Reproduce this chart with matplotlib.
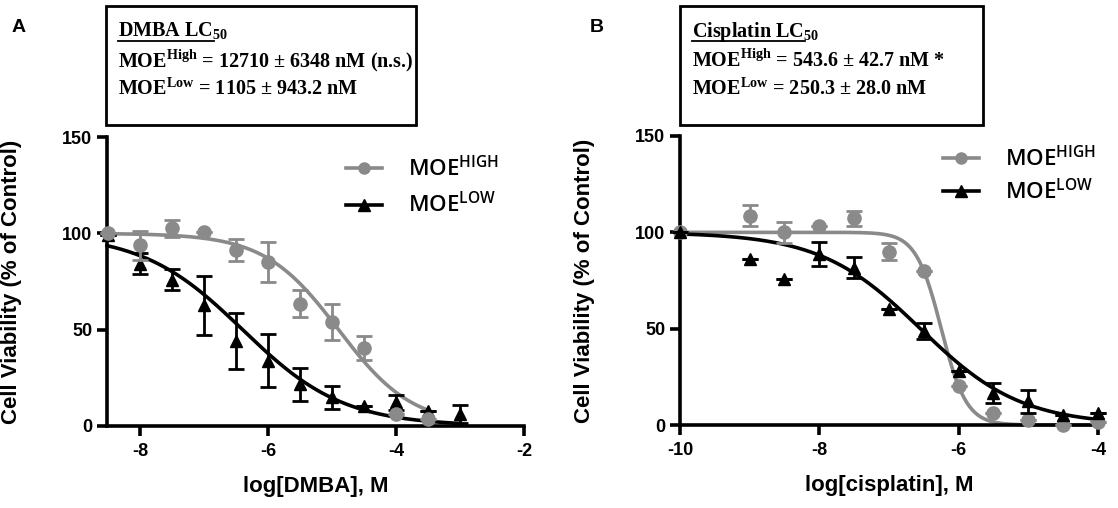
import numpy as np
import matplotlib
matplotlib.use("Agg")
import matplotlib.pyplot as plt
from matplotlib.patches import Rectangle
from matplotlib.lines import Line2D

plt.rcParams['font.family'] = ['Liberation Sans', 'DejaVu Sans']
plt.rcParams['mathtext.fontset'] = 'custom'
plt.rcParams['mathtext.rm'] = 'Liberation Serif:bold'
plt.rcParams['mathtext.sf'] = 'Open Sans:semibold'
plt.rcParams['axes.unicode_minus'] = False

GRAY = '#8a8a8a'
W, H = 1118, 508

# panel A: DMBA
dmba_x_high = [-8.5, -8, -7.5, -7, -6.5, -6, -5.5, -5, -4.5, -4, -3.5]
dmba_y_high = [100, 93.9, 102.6, 100.9, 91.3, 85.2, 63.5, 53.9, 40.3, 6.1, 3.5]
dmba_e_high = [0, 7.5, 4.5, 0, 5.5, 10.5, 7, 9.5, 6.3, 0, 0]
dmba_x_low = [-8.5, -8, -7.5, -7, -6.5, -6, -5.5, -5, -4.5, -4, -3.5, -3]
dmba_y_low = [99, 84.3, 76, 62.6, 44.3, 33.9, 21.7, 14.8, 10.4, 12.2, 7.8, 6.1]
dmba_e_low = [0, 5.3, 5.5, 15.5, 14.5, 13.8, 8.5, 6, 0, 3.8, 0, 4.7]

# panel B: cisplatin
cis_x = [-10, -9, -8.5, -8, -7.5, -7, -6.5, -6, -5.5, -5, -4.5, -4]
cis_y_high = [100, 108.7, 100, 103.5, 107.3, 89.9, 80, 20, 6.1, 2.6, 0, 1.7]
cis_e_high = [0, 5.6, 5.6, 0, 4, 4.4, 0, 0, 0, 0, 0, 0]
cis_y_low = [100, 86, 76, 88.7, 81.7, 60, 48.7, 27.8, 16.5, 12.2, 5.2, 6.1]
cis_e_low = [0, 0, 0, 6.1, 5.3, 0, 4.3, 0, 5.2, 6.1, 0, 0]

# fitted curve parameters (logLC50, hill slope, x range)
fit_dmba_high = (-4.9, 0.75, -8.52, -3.5)
fit_dmba_low = (-6.4, 0.55, -8.52, -3.0)
fit_cis_high = (-6.25, 2.4, -10, -4)
fit_cis_low = (-6.55, 0.6, -10, -4)


def curve(p):
    x50, h, x0, x1 = p
    xs = np.linspace(x0, x1, 300)
    return xs, 100 / (1 + 10 ** ((xs - x50) * h))


fig = plt.figure(figsize=(W / 100, H / 100), dpi=100)
axA = fig.add_axes([107 / W, 82 / H, 417 / W, 289 / H])
axB = fig.add_axes([680 / W, 83 / H, 418 / W, 289 / H])


def draw(ax, xh, yh, eh, xl, yl, el, fh, fl, gray_top):
    xs, ys = curve(fh)
    ax.plot(xs, ys, color=GRAY, lw=2.6, zorder=2)
    xs, ys = curve(fl)
    ax.plot(xs, ys, color='black', lw=2.6, zorder=2)
    ax.errorbar(xh, yh, yerr=eh, fmt='o', color=GRAY, ms=9.5, capsize=6,
                elinewidth=2, capthick=2, zorder=5 if gray_top else 3)
    ax.errorbar(xl, yl, yerr=el, fmt='^', color='black', ms=9, capsize=6,
                elinewidth=2, capthick=2, zorder=4)
    for s in ['top', 'right']:
        ax.spines[s].set_visible(False)
    for s in ['left', 'bottom']:
        ax.spines[s].set_linewidth(2.6)
    ax.tick_params(width=2.6, length=7, labelsize=13)
    ax.tick_params(axis='x', pad=5)
    ax.set_ylim(0, 150)
    ax.set_yticks([0, 50, 100, 150])
    ax.set_ylabel('Cell Viability (% of Control)', fontsize=16, fontweight='bold')
    ax.yaxis.set_label_coords(-85 / 418, 0.5)


draw(axA, dmba_x_high, dmba_y_high, dmba_e_high, dmba_x_low, dmba_y_low, dmba_e_low,
     fit_dmba_high, fit_dmba_low, True)
axA.set_xlim(-8.52, -2)
axA.set_xticks([-8, -6, -4, -2])
axA.set_xlabel('log[DMBA], M', fontsize=16, fontweight='bold', labelpad=12)

draw(axB, cis_x, cis_y_high, cis_e_high, cis_x, cis_y_low, cis_e_low,
     fit_cis_high, fit_cis_low, False)
axB.set_xlim(-10, -4)
axB.set_xticks([-10, -8, -6, -4])
axB.set_xlabel('log[cisplatin], M', fontsize=16, fontweight='bold', labelpad=12)
for ax in (axA, axB):
    for lab in ax.get_xticklabels() + ax.get_yticklabels():
        lab.set_fontweight('bold')
    for art in ax.lines + ax.collections:
        art.set_clip_on(False)

# legends
handles = [Line2D([], [], color=GRAY, marker='o', ms=8, lw=2.6),
           Line2D([], [], color='black', marker='^', ms=8, lw=2.6)]
labels = [r'MOE$^{\mathsf{HIGH}}$', r'MOE$^{\mathsf{LOW}}$']
for x_h, y_top, sp in ((346, 156, 0.5), (943, 146, 0.35)):
    fig.legend(handles, labels, loc='upper left', bbox_to_anchor=(x_h / W, 1 - y_top / H),
               frameon=False, prop={'family': 'Open Sans', 'size': 16, 'weight': 'semibold'},
               handlelength=1.6, handletextpad=1.2, labelspacing=sp, borderpad=0,
               borderaxespad=0)

# panel letters
fig.text(12 / W, 1 - 32 / H, 'A', fontsize=14, fontweight='bold', va='baseline')
fig.text(590 / W, 1 - 32 / H, 'B', fontsize=14, fontweight='bold', va='baseline')

# LC50 boxes
boxes = [
    (106, 416, 'DMBA LC$_{\\mathrm{50}}$',
     ['MOE$^{\\mathrm{High}}$ = 12710 ± 6348 nM (n.s.)', 'MOE$^{\\mathrm{Low}}$ = 1105 ± 943.2 nM']),
    (680, 983, 'Cisplatin LC$_{\\mathrm{50}}$',
     ['MOE$^{\\mathrm{High}}$ = 543.6 ± 42.7 nM *', 'MOE$^{\\mathrm{Low}}$ = 250.3 ± 28.0 nM']),
]
titles = []
for x0, x1, title, lines in boxes:
    fig.add_artist(Rectangle((x0 / W, 1 - 125 / H), (x1 - x0) / W, 119 / H,
                             transform=fig.transFigure, fill=False, lw=2, ec='black'))
    t = fig.text((x0 + 12) / W, 1 - 37 / H, title, fontsize=14.5, family='Liberation Serif',
                 fontweight='bold', va='baseline')
    titles.append(t)
    for i, s in enumerate(lines):
        fig.text((x0 + 12) / W, 1 - (67 + 28 * i) / H, s, fontsize=14.5,
                 family='Liberation Serif', fontweight='bold', va='baseline')

# underline box titles
fig.canvas.draw()
r = fig.canvas.get_renderer()
for t in titles:
    bb = t.get_window_extent(r).transformed(fig.transFigure.inverted())
    y = 1 - 40.5 / H
    fig.add_artist(Line2D([bb.x0, bb.x1 - 14 / W], [y, y], transform=fig.transFigure,
                          color='black', lw=1.3))

fig.savefig('out.png', dpi=100)
